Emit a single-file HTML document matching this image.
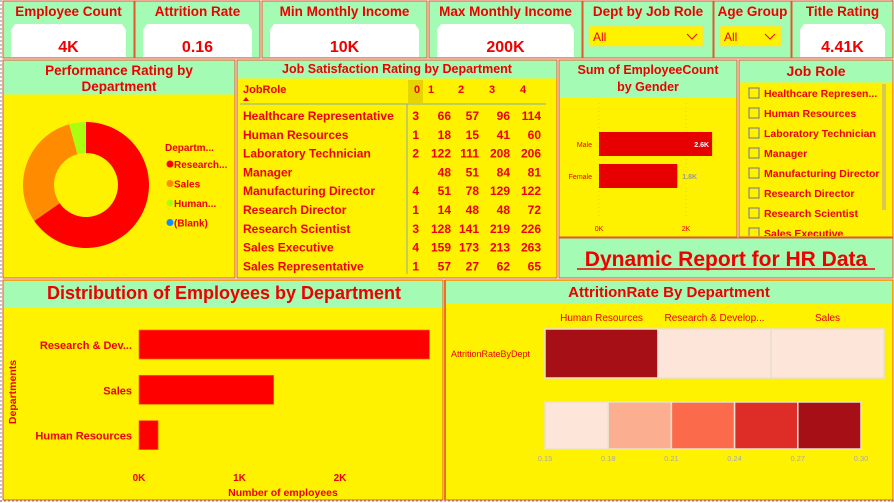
<!DOCTYPE html>
<html><head><meta charset="utf-8">
<style>
body{margin:0;background:#fff;}
svg{display:block;font-family:"Liberation Sans",sans-serif;}
</style></head>
<body>
<svg id="dash" width="894" height="503" viewBox="0 0 894 503">
<rect x="0" y="0" width="894" height="503" fill="#fff"/>
<line x1="1" y1="0" x2="1" y2="503" stroke="#888" stroke-dasharray="2,2"/>
<line x1="892" y1="0" x2="892" y2="503" stroke="#888" stroke-dasharray="2,2"/>
<line x1="0" y1="501" x2="894" y2="501" stroke="#888" stroke-dasharray="2,2"/>
<g id="kpis"></g>
<g>
<rect x="3" y="60" width="232" height="218" fill="#fff200" stroke="#e0572e"/>
<rect x="3.5" y="60.5" width="231" height="34" fill="#a4fcb4"/>
<text x="119" y="75" text-anchor="middle" font-size="13.5" font-weight="bold" fill="#e00">Performance Rating by</text>
<text x="119" y="91" text-anchor="middle" font-size="13.5" font-weight="bold" fill="#e00">Department</text>
<g id="donut"></g>
<text x="165" y="151" font-size="10" font-weight="bold" fill="#e00">Departm...</text>
<g id="donutLegend"></g>
</g>
<g>
<rect x="237" y="60" width="320" height="218" fill="#fff200" stroke="#e0572e"/>
<rect x="237.5" y="60.5" width="319" height="18" fill="#a4fcb4"/>
<text x="397" y="73" text-anchor="middle" font-size="12.5" font-weight="bold" fill="#e00">Job Satisfaction Rating by Department</text>
<rect x="408" y="80" width="15" height="23" fill="#e6d400"/>
<text x="243" y="93" font-size="11" font-weight="bold" fill="#e00">JobRole</text>
<path d="M243,101 L246,97 L249,101Z" fill="#e00"/>
<line x1="240" y1="104" x2="546" y2="104" stroke="#8aa" stroke-width="1"/>
<line x1="407" y1="104" x2="407" y2="274" stroke="#8aa" stroke-width="1"/>
<g id="table"></g>
</g>
<g>
<rect x="559" y="60" width="178" height="177" fill="#fff200" stroke="#e0572e"/>
<rect x="559.5" y="60.5" width="177" height="37" fill="#a4fcb4"/>
<text x="648" y="74" text-anchor="middle" font-size="12.5" font-weight="bold" fill="#e00">Sum of EmployeeCount</text>
<text x="648" y="91" text-anchor="middle" font-size="12.5" font-weight="bold" fill="#e00">by Gender</text>
<g id="gender"></g>
</g>
<g>
<rect x="739" y="60" width="154" height="177" fill="#fff200" stroke="#e0572e"/>
<rect x="739.5" y="60.5" width="153" height="22" fill="#a4fcb4"/>
<text x="816" y="76" text-anchor="middle" font-size="14" font-weight="bold" fill="#e00">Job Role</text>
<rect x="882" y="84" width="4" height="126" fill="#d8c850"/>
<svg x="740" y="83" width="152" height="153"><g id="slicer"></g></svg>
</g>
<g>
<rect x="559" y="238" width="334" height="40" fill="#a4fcb4" stroke="#e0572e"/>
<text x="726" y="266" text-anchor="middle" font-size="21" font-weight="bold" fill="#e00">Dynamic Report for HR Data</text>
<line x1="577" y1="269" x2="875" y2="269" stroke="#e00" stroke-width="1.5"/>
</g>
<g>
<rect x="3" y="280" width="440" height="220" fill="#fff200" stroke="#e0572e"/>
<rect x="3.5" y="282" width="439" height="25" fill="#a4fcb4"/>
<text x="224" y="299" text-anchor="middle" font-size="18" font-weight="bold" fill="#e00">Distribution of Employees by Department</text>
<text transform="translate(16,392) rotate(-90)" text-anchor="middle" font-size="10.5" font-weight="bold" fill="#e00">Departments</text>
<text x="283" y="496" text-anchor="middle" font-size="10.5" font-weight="bold" fill="#e00">Number of employees</text>
<g id="dist"></g>
</g>
<g>
<rect x="445" y="280" width="448" height="220" fill="#fff200" stroke="#e0572e"/>
<line x1="445" y1="280" x2="445" y2="500" stroke="#f07020" stroke-width="2"/>
<rect x="446" y="282" width="446" height="21" fill="#a4fcb4"/>
<text x="669" y="297" text-anchor="middle" font-size="15" font-weight="bold" fill="#e00">AttritionRate By Department</text>
<text x="451" y="357" font-size="9" fill="#e00">AttritionRateByDept</text>
<g id="heat"></g>
</g>
</svg>
<script>
const NS="http://www.w3.org/2000/svg";
function mk(tag,attrs,parent,txt){const e=document.createElementNS(NS,tag);for(const k in attrs)e.setAttribute(k,attrs[k]);if(txt!==undefined)e.textContent=txt;parent.appendChild(e);return e;}
const RED="#e00";

const kpiTitles=["Employee Count","Attrition Rate","Min Monthly Income","Max Monthly Income","Dept by Job Role","Age Group","Title Rating"];
const kpiValues=["4K","0.16","10K","200K","All","All","4.41K"];
const kpiX=[3,135,262,429,583,714,792], kpiW=[131,125,165,153,130,77,101];
const kg=document.getElementById('kpis');
kpiTitles.forEach((t,i)=>{
  const g=mk('g',{},kg);
  
  
  const x=kpiX[i],w=kpiW[i];
  mk('rect',{x:x,y:1,width:w,height:57,fill:'#a4fcb4',stroke:'#e0572e'},g);
  const tt=mk('text',{x:x+w/2,y:16,'text-anchor':'middle','font-size':13.5,'font-weight':'bold',fill:RED},g,t);
  
  
  if(kpiValues[i]==="All"){
    const dd=mk('g',{},g);
    
    
    mk('rect',{x:x+6,y:26,width:w-16,height:20,fill:'#fff200',stroke:'#e8e070'},dd);
    mk('text',{x:x+10,y:41,'font-size':12,fill:RED},dd,"All");
    mk('path',{d:`M${x+w-26},34 l5,5 l5,-5`,fill:'none',stroke:RED},dd);
  } else {
    mk('path',{d:`M${x+8},30 L${x+12},24 L${x+w-12},24 L${x+w-8},30 L${x+w-8},57 L${x+8},57Z`,fill:'#fff'},g);
    const v=mk('text',{x:x+w/2,y:52,'text-anchor':'middle','font-size':16,'font-weight':'bold',fill:RED},g,kpiValues[i]);
    
    
  }
});

const donutCats=["Research...","Sales","Human...","(Blank)"];
const donutVals=[961,446,63,0];
const donutColors=["#ff0000","#ff8c00","#aaff11","#118dff"];
(function(){
  const g=document.getElementById('donut');const cx=86,cy=185,R=63,r=32;
  const tot=donutVals.reduce((a,b)=>a+b,0);let a0=0;
  donutVals.forEach((v,i)=>{
    if(v<=0)return;const a1=a0+v/tot*2*Math.PI;
    const p=(a,rr)=>[cx+rr*Math.sin(a),cy-rr*Math.cos(a)];
    const [x1,y1]=p(a0,R),[x2,y2]=p(a1,R),[x3,y3]=p(a1,r),[x4,y4]=p(a0,r);
    const lg=(a1-a0)>Math.PI?1:0;
    const s=mk('path',{d:`M${x1},${y1} A${R},${R} 0 ${lg} 1 ${x2},${y2} L${x3},${y3} A${r},${r} 0 ${lg} 0 ${x4},${y4}Z`,fill:donutColors[i]},g);
    
    
    a0=a1;
  });
  const lg=document.getElementById('donutLegend');
  donutCats.forEach((c,i)=>{
    const e=mk('g',{},lg);
    
    
    const y=164+i*19.5;
    mk('circle',{cx:170,cy:y,r:3.5,fill:donutColors[i]},e);
    mk('text',{x:174,y:y+4,'font-size':10,'font-weight':'bold',fill:RED},e,c);
  });
})();

const tableCols=["0","1","2","3","4"];
const tableRoles=["Healthcare Representative","Human Resources","Laboratory Technician","Manager","Manufacturing Director","Research Director","Research Scientist","Sales Executive","Sales Representative"];
const tableVals=[[3,66,57,96,114],[1,18,15,41,60],[2,122,111,208,206],[null,48,51,84,81],[4,51,78,129,122],[1,14,48,48,72],[3,128,141,219,226],[4,159,173,213,263],[1,57,27,62,65]];
(function(){
  const g=document.getElementById('table');
  const colR=[419,451,479,510,541];
  const hdrX=[414,428,458,489,520];
  tableCols.forEach((c,j)=>{const t=mk('text',{x:hdrX[j],y:93,'font-size':11,'font-weight':'bold',fill:RED},g,c);
    });
  tableRoles.forEach((r,i)=>{
    const y=120+i*18.8;
    const t=mk('text',{x:243,y:y,'font-size':12,'font-weight':'bold',fill:RED},g,r);
    
    tableVals[i].forEach((v,j)=>{if(v===null)return;
      const c=mk('text',{x:colR[j],y:y,'text-anchor':'end','font-size':12,'font-weight':'bold',fill:RED},g,String(v));
      });
  });
})();

const genderCats=["Male","Female"];
const genderVals=[2.6,1.8];
const genderTicks=[0,2];
(function(){
  const g=document.getElementById('gender');const x0=599,k=43.5;
  const X=v=>x0+v*k;
  genderTicks.forEach(t=>{
    mk('line',{x1:X(t),y1:103,x2:X(t),y2:218,stroke:'#cccc88','stroke-dasharray':'1,3'},g);
    const l=mk('text',{x:X(t),y:231,'text-anchor':'middle','font-size':7,fill:RED},g,t+"K");
    
  });
  genderCats.forEach((c,i)=>{
    const y=132+i*32;
    const b=mk('rect',{x:x0,y:y,width:X(genderVals[i])-x0,height:24,fill:'#e60000'},g);
    
    mk('text',{x:592,y:y+15,'text-anchor':'end','font-size':7,fill:RED},g,c);
    const inside=i==0;
    mk('text',{x:inside?X(genderVals[i])-3:X(genderVals[i])+5,y:y+15,'text-anchor':inside?'end':'start','font-size':7,'font-weight':'bold',fill:inside?'#fff':'#999'},g,genderVals[i].toFixed(1)+"K");
  });
})();

const slicerItems=["Healthcare Represen...","Human Resources","Laboratory Technician","Manager","Manufacturing Director","Research Director","Research Scientist","Sales Executive"];
(function(){
  const g=document.getElementById('slicer');
  slicerItems.forEach((s,i)=>{
    const e=mk('g',{},g);
    
    
    const y=10+i*20;
    mk('rect',{x:9,y:y-5,width:10,height:10,fill:'none',stroke:'#7070a0'},e);
    mk('text',{x:24,y:y+4,'font-size':10.5,'font-weight':'bold',fill:RED},e,s);
  });
})();

const distCats=["Research & Dev...","Sales","Human Resources"];
const distVals=[2.89,1.34,0.19];
const distTicks=[0,1,2];
(function(){
  const g=document.getElementById('dist');const x0=139,k=100.5;
  const X=v=>x0+v*k;
  distCats.forEach((c,i)=>{
    const y=330+i*45.3;
    const b=mk('rect',{x:x0,y:y,width:X(distVals[i])-x0,height:29,fill:'#ff0000',stroke:'#ff6a00','stroke-width':0.7},g);
    
    const t=mk('text',{x:132,y:y+19,'text-anchor':'end','font-size':11,'font-weight':'bold',fill:RED},g,c);
    
  });
  distTicks.forEach(t=>{const l=mk('text',{x:X(t),y:481,'text-anchor':'middle','font-size':10,'font-weight':'bold',fill:RED},g,t+"K");
    });
})();

const heatCats=["Human Resources","Research & Develop...","Sales"];
const heatVals=[0.30,0.14,0.15];
const legendTicks=[0.15,0.18,0.21,0.24,0.27,0.30];
const palette=["#fee5d9","#fcae91","#fb6a4a","#de2d26","#a50f15"];
(function(){
  const g=document.getElementById('heat');
  const col=v=>{let idx=Math.floor((v-0.15)/0.03);idx=Math.max(0,Math.min(4,idx));return palette[idx];};
  const cw=113,x0=545;
  heatCats.forEach((c,i)=>{
    const x=x0+i*cw;
    mk('text',{x:x+cw/2,y:321,'text-anchor':'middle','font-size':10,fill:RED},g,c);
    const r=mk('rect',{x:x,y:329,width:cw,height:49,fill:col(heatVals[i]),stroke:'#e8e0d0','stroke-width':1.5},g);
    
  });
  const lx0=545,lw=316;const L=v=>lx0+(v-0.15)/0.15*lw;
  palette.forEach((p,i)=>{
    const r=mk('rect',{x:L(legendTicks[i]),y:402,width:L(legendTicks[i+1])-L(legendTicks[i]),height:47,fill:p,stroke:'#e8e0d0','stroke-width':1.5},g);
    
  });
  legendTicks.forEach(t=>{const l=mk('text',{x:L(t),y:461,'text-anchor':'middle','font-size':7.5,fill:'#aaa'},g,t.toFixed(2));
    });
})();
</script>
</body></html>
